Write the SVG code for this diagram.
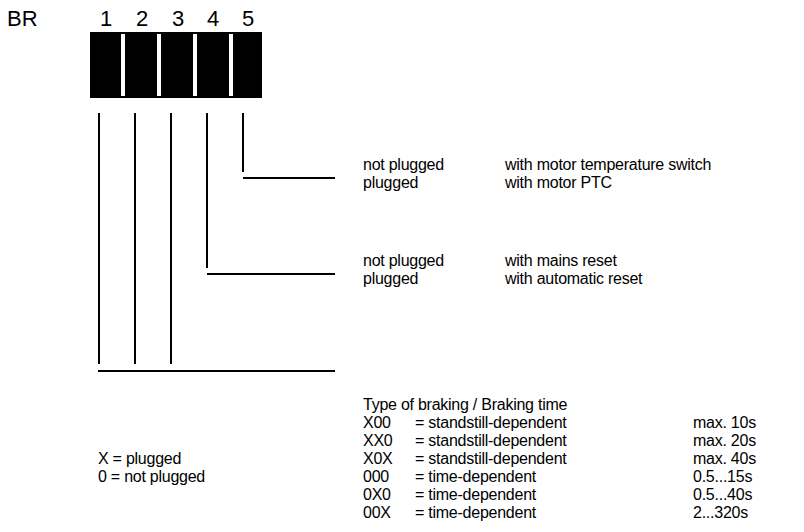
<svg xmlns="http://www.w3.org/2000/svg" width="804" height="532" viewBox="0 0 804 532">
  <style>
    text { font-family: "Liberation Sans", Arial, sans-serif; fill: #000; }
    .hd { font-size: 22px; }
    .t { font-size: 16px; letter-spacing: -0.25px; }
    .ln { stroke: #000; stroke-width: 2; fill: none; }
  </style>
  <rect width="804" height="532" fill="#fff"/>

  <!-- DIP switch block BR with positions 1..5 -->
  <g id="switch">
    <text class="hd" x="7" y="26">BR</text>
    <text class="hd" x="106" y="26" text-anchor="middle">1</text>
    <text class="hd" x="142" y="26" text-anchor="middle">2</text>
    <text class="hd" x="178" y="26" text-anchor="middle">3</text>
    <text class="hd" x="213" y="26" text-anchor="middle">4</text>
    <text class="hd" x="248" y="26" text-anchor="middle">5</text>
    <rect x="90" y="32" width="172" height="66" fill="#000"/>
    <rect x="121" y="34" width="4" height="62" fill="#fff"/>
    <rect x="157" y="34" width="4" height="62" fill="#fff"/>
    <rect x="193" y="34" width="4" height="62" fill="#fff"/>
    <rect x="229" y="34" width="4" height="62" fill="#fff"/>
  </g>

  <!-- leader lines from the switch positions -->
  <g id="connectors">
    <path class="ln" d="M243 113 V172 M243 178 H335"/>
    <path class="ln" d="M207 113 V268 M207 274 H335"/>
    <path class="ln" d="M99 113 V364 M135 113 V364 M171 113 V364 M98 371 H335"/>
  </g>

  <g id="switch5">
    <text class="t" x="363" y="170">not plugged</text>
    <text class="t" x="363" y="188">plugged</text>
    <text class="t" x="505" y="170">with motor temperature switch</text>
    <text class="t" x="505" y="188">with motor PTC</text>
  </g>

  <g id="switch4">
    <text class="t" x="363" y="266">not plugged</text>
    <text class="t" x="363" y="284">plugged</text>
    <text class="t" x="505" y="266">with mains reset</text>
    <text class="t" x="505" y="284">with automatic reset</text>
  </g>

  <g id="switch123">
    <text class="t" x="363" y="410">Type of braking / Braking time</text>
    <text class="t" x="363" y="428">X00</text>
    <text class="t" x="415" y="428">= standstill-dependent</text>
    <text class="t" x="693" y="428">max. 10s</text>
    <text class="t" x="363" y="446">XX0</text>
    <text class="t" x="415" y="446">= standstill-dependent</text>
    <text class="t" x="693" y="446">max. 20s</text>
    <text class="t" x="363" y="464">X0X</text>
    <text class="t" x="415" y="464">= standstill-dependent</text>
    <text class="t" x="693" y="464">max. 40s</text>
    <text class="t" x="363" y="482">000</text>
    <text class="t" x="415" y="482">= time-dependent</text>
    <text class="t" x="693" y="482">0.5...15s</text>
    <text class="t" x="363" y="500">0X0</text>
    <text class="t" x="415" y="500">= time-dependent</text>
    <text class="t" x="693" y="500">0.5...40s</text>
    <text class="t" x="363" y="518">00X</text>
    <text class="t" x="415" y="518">= time-dependent</text>
    <text class="t" x="693" y="518">2...320s</text>
  </g>

  <g id="legend">
    <text class="t" x="98" y="464">X = plugged</text>
    <text class="t" x="98" y="482">0 = not plugged</text>
  </g>
</svg>
